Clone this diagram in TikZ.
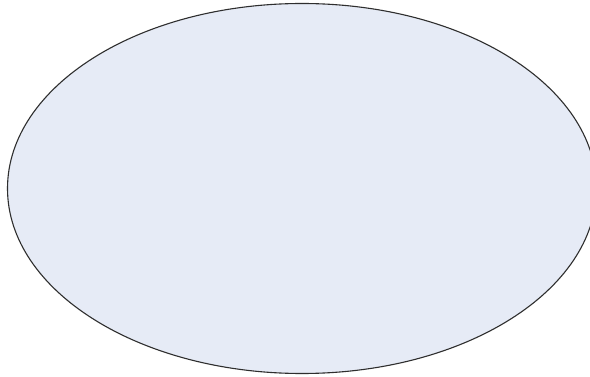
\documentclass[tikz,border=0pt]{standalone}
\definecolor{ellfill}{HTML}{E6EBF6}
\definecolor{ellline}{HTML}{2E2E2E}
\tikzset{shapeoval/.style={fill=ellfill,draw=ellline,line width=1.1pt}}
\begin{document}
\begin{tikzpicture}[x=1pt,y=-1pt]
\useasboundingbox (0,0) rectangle (590,377);
\fill[white] (0,0) rectangle (590,377);
\begin{scope}
\clip (0,0) rectangle (590,377);
\draw[shapeoval] (302,188.5) ellipse [x radius=294.5, y radius=185];
\end{scope}
\end{tikzpicture}
\end{document}
